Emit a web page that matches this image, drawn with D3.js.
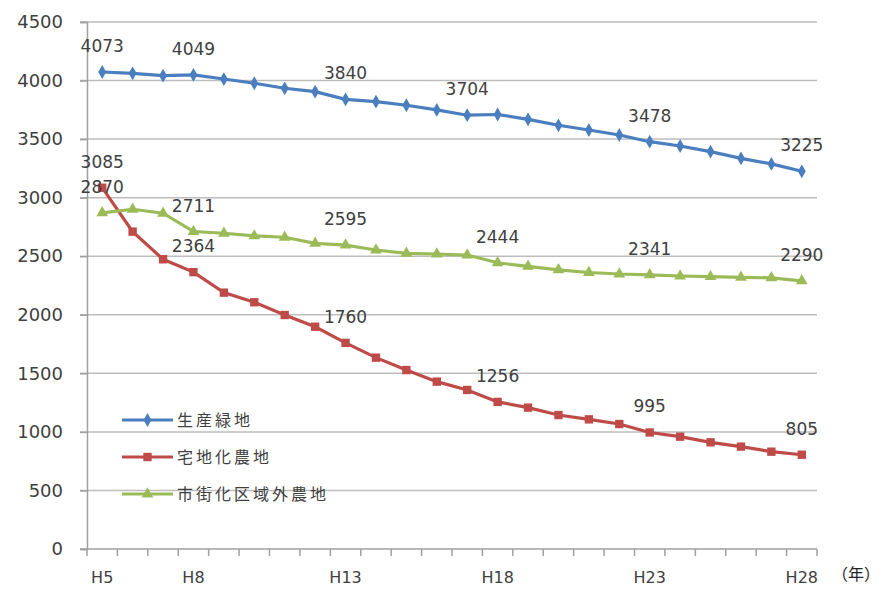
<!DOCTYPE html>
<html>
<head>
<meta charset="utf-8">
<script src="https://cdn.jsdelivr.net/npm/d3@7"></script>
<style>
  body { margin: 0; background: #fff; }
  svg { display: block; }
</style>
</head>
<body>
<svg width="883" height="589"></svg>
<script>
// Years H5..H28
const years = d3.range(5, 29).map(n => 'H' + n);
const tickYears = ['H5', 'H8', 'H13', 'H18', 'H23', 'H28'];
const yTicks = d3.range(0, 4501, 500);

// 生産緑地
const greenland = [4073, 4062, 4042, 4049, 4013, 3977, 3934, 3905, 3840, 3820, 3789, 3749,
  3704, 3710, 3669, 3618, 3578, 3535, 3478, 3441, 3393, 3336, 3288, 3225];
// 宅地化農地
const residential = [3085, 2710, 2474, 2364, 2189, 2107, 1998, 1898, 1760, 1634, 1528, 1429,
  1358, 1256, 1207, 1144, 1107, 1067, 995, 959, 911, 874, 831, 805];
// 市街化区域外農地
const outside = [2870, 2901, 2867, 2711, 2696, 2673, 2662, 2610, 2595, 2553, 2525, 2519,
  2510, 2444, 2413, 2384, 2361, 2348, 2341, 2331, 2325, 2320, 2315, 2290];

const series = [
  { name: '生産緑地', values: greenland, color: '#4a7ebf', marker: 'diamond', labels: ['H5', 'H8', 'H13', 'H17', 'H23', 'H28'] },
  { name: '宅地化農地', values: residential, color: '#be4b48', marker: 'square', labels: ['H5', 'H8', 'H13', 'H18', 'H23', 'H28'] },
  { name: '市街化区域外農地', values: outside, color: '#9bbb59', marker: 'triangle', labels: ['H5', 'H8', 'H13', 'H18', 'H23', 'H28'] }
];

const svg = d3.select('svg');
const margin = { left: 87, right: 66, top: 22, bottom: 40 };
const width = 883, height = 589;

const x = d3.scaleBand().domain(years).range([margin.left, width - margin.right]);
const y = d3.scaleLinear().domain([0, 4500]).range([height - margin.bottom, margin.top]);

// gridlines
svg.append('g')
  .selectAll('line')
  .data(yTicks.filter(d => d > 0))
  .join('line')
  .attr('x1', margin.left - 7)
  .attr('x2', width - margin.right)
  .attr('y1', d => y(d))
  .attr('y2', d => y(d))
  .attr('stroke', '#bdbdbd')
  .attr('stroke-width', 1.5);

// y axis
const yAxis = svg.append('g')
  .attr('transform', `translate(${margin.left},0)`)
  .call(d3.axisLeft(y).tickValues(yTicks).tickFormat(d3.format('d')).tickSize(7).tickPadding(17));
yAxis.select('.domain').attr('stroke', '#a0a0a0').attr('stroke-width', 1.5);
yAxis.selectAll('.tick line').attr('stroke', '#a0a0a0').attr('stroke-width', 1.5);
yAxis.selectAll('text')
  .attr('font-family', 'DejaVu Sans')
  .attr('font-size', 18)
  .attr('fill', '#404040');

// x axis: ticks at band boundaries
const xAxisG = svg.append('g');
xAxisG.append('line')
  .attr('x1', margin.left - 7).attr('x2', width - margin.right)
  .attr('y1', y(0)).attr('y2', y(0))
  .attr('stroke', '#a0a0a0').attr('stroke-width', 1.5);
xAxisG.selectAll('line.tk')
  .data(years.concat(['end']))
  .join('line')
  .attr('class', 'tk')
  .attr('x1', d => d === 'end' ? x.range()[1] : x(d))
  .attr('x2', d => d === 'end' ? x.range()[1] : x(d))
  .attr('y1', y(0)).attr('y2', y(0) + 7)
  .attr('stroke', '#a0a0a0').attr('stroke-width', 1.5);
xAxisG.selectAll('text')
  .data(tickYears)
  .join('text')
  .attr('x', d => x(d) + x.bandwidth() / 2)
  .attr('y', 583)
  .attr('text-anchor', 'middle')
  .attr('font-family', 'DejaVu Sans')
  .attr('font-size', 16)
  .attr('fill', '#404040')
  .text(d => d);

svg.append('text')
  .attr('x', 880).attr('y', 580)
  .attr('text-anchor', 'end')
  .attr('font-family', 'Noto Sans CJK JP')
  .attr('font-size', 16)
  .attr('fill', '#222')
  .text('（年）');

const cx = d => x(d) + x.bandwidth() / 2;
const symbolFor = {
  diamond: d3.symbol().type(d3.symbolDiamond).size(55),
  square: d3.symbol().type(d3.symbolSquare).size(70),
  triangle: d3.symbol().type(d3.symbolTriangle).size(60)
};

const line = d3.line().x((d, i) => cx(years[i])).y(d => y(d));

series.forEach(s => {
  const g = svg.append('g');
  g.append('path')
    .datum(s.values)
    .attr('fill', 'none')
    .attr('stroke', s.color)
    .attr('stroke-width', 3.2)
    .attr('d', line);
  g.selectAll('path.mk')
    .data(s.values)
    .join('path')
    .attr('class', 'mk')
    .attr('transform', (d, i) => `translate(${cx(years[i])},${y(d)})`)
    .attr('d', symbolFor[s.marker])
    .attr('fill', s.color);
});

// data labels
series.forEach(s => {
  svg.append('g')
    .selectAll('text')
    .data(s.labels)
    .join('text')
    .attr('x', d => cx(d))
    .attr('y', d => y(s.values[years.indexOf(d)]) - 20)
    .attr('text-anchor', 'middle')
    .attr('font-family', 'DejaVu Sans')
    .attr('font-size', 17)
    .attr('fill', '#404040')
    .text(d => s.values[years.indexOf(d)]);
});

// legend
const legend = svg.append('g').attr('transform', 'translate(122,420)');
series.forEach((s, i) => {
  const g = legend.append('g').attr('transform', `translate(0,${i * 37})`);
  g.append('line')
    .attr('x1', 0).attr('x2', 51)
    .attr('stroke', s.color).attr('stroke-width', 3.2);
  g.append('path')
    .attr('transform', 'translate(25.5,0)')
    .attr('d', symbolFor[s.marker])
    .attr('fill', s.color);
  g.append('text')
    .attr('x', 55)
    .attr('y', 6)
    .attr('font-family', 'Noto Sans CJK JP')
    .attr('font-size', 16)
    .attr('letter-spacing', 3)
    .attr('fill', '#404040')
    .text(s.name);
});
</script>
</body>
</html>
